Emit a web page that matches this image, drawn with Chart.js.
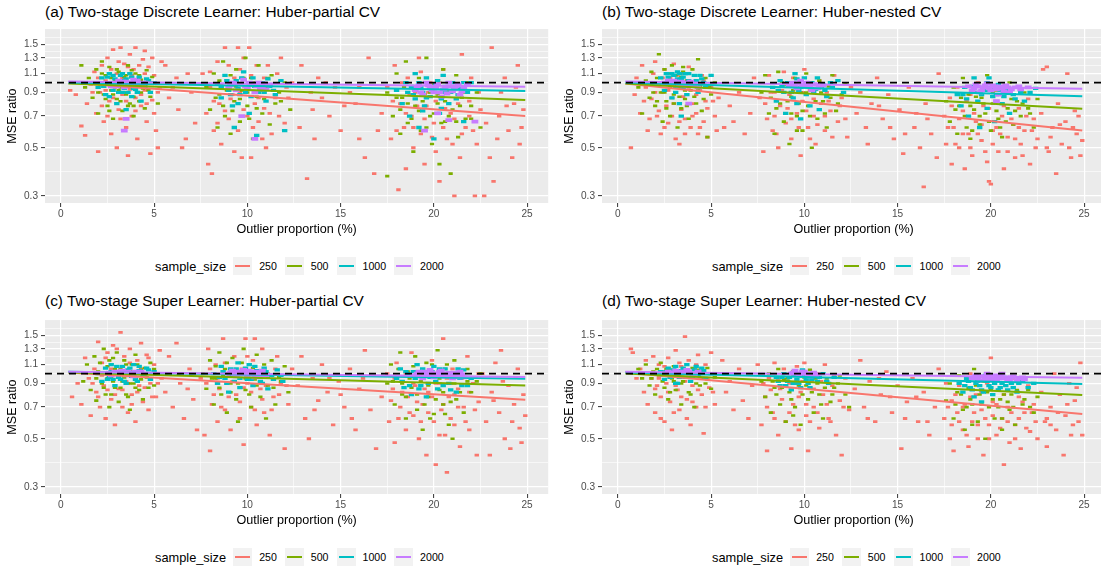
<!DOCTYPE html>
<html>
<head>
<meta charset="utf-8">
<script src="https://cdn.jsdelivr.net/npm/chart.js@4.4.0/dist/chart.umd.min.js"></script>
<style>
body{margin:0;width:1101px;height:569px;overflow:hidden;background:#fff;position:relative;font-family:"Liberation Sans",Arial,sans-serif;color:#000}
canvas{position:absolute}
.ttl{position:absolute;font-size:15.4px;line-height:18px;white-space:nowrap}
.leg{position:absolute;display:flex;align-items:center;height:18px;white-space:nowrap}
.leg .lt{font-size:12.8px;margin-right:7px}
.leg .key{width:19px;height:18px;background:#F2F2F2;position:relative;margin-right:7px}
.leg .key i{position:absolute;left:2px;right:2px;top:8px;height:2px}
.leg .lab{font-size:10.6px;margin-right:8px}
</style>
</head>
<body>
<div class="ttl" style="left:45px;top:3px">(a) Two-stage Discrete Learner: Huber-partial CV</div>
<div class="ttl" style="left:602px;top:3px">(b) Two-stage Discrete Learner: Huber-nested CV</div>
<div class="ttl" style="left:45px;top:292px">(c) Two-stage Super Learner: Huber-partial CV</div>
<div class="ttl" style="left:602px;top:292px">(d) Two-stage Super Learner: Huber-nested CV</div>
<canvas id="ca" width="556" height="220" style="left:0;top:20px"></canvas>
<canvas id="cb" width="556" height="220" style="left:557px;top:20px"></canvas>
<canvas id="cc" width="556" height="220" style="left:0;top:311px"></canvas>
<canvas id="cd" width="556" height="220" style="left:557px;top:311px"></canvas>
<div class="leg" id="la" style="left:155px;top:257px"></div>
<div class="leg" id="lb" style="left:712px;top:257px"></div>
<div class="leg" id="lc" style="left:155px;top:548px"></div>
<div class="leg" id="ld" style="left:712px;top:548px"></div>
<script>
const sizes = ['250', '500', '1000', '2000']
const colors = ['#F8766D', '#7CAE00', '#00BFC4', '#C77CFF']
const yMajor = [0.3, 0.5, 0.7, 0.9, 1.1, 1.3, 1.5]
const yMinor = [0.387, 0.592, 0.794, 0.995, 1.196, 1.396, 1.611]
const xMajor = [0, 5, 10, 15, 20, 25]
const xMinor = [2.5, 7.5, 12.5, 17.5, 22.5]
const xMin = -0.85, xMax = 26.13
const yMin = 0.278, yMax = 1.765
const refY = 1
const fitX = [0.4, 24.9]

// (a) discrete learner, huber-partial
const a250 = [[0.5,.92],[0.8,.88],[1.1,.63],[1.3,.57],[1.4,.8],[1.6,.98],[1.8,1.12],[1.9,.72],[2.0,.48],[2.1,.9],[2.2,1.2],[2.3,.66],[2.4,1.02],[2.5,1.3],[2.6,.82],[2.7,.58],[2.8,1.42],[2.9,.95],[3.0,.5],[3.0,1.1],[3.1,.75],[3.2,1.45],[3.3,.88],[3.4,1.22],[3.5,.62],[3.6,.46],[3.6,1.0],[3.7,1.35],[3.8,.7],[3.9,1.15],[4.0,1.45],[4.0,.85],[4.1,.55],[4.2,1.05],[4.3,.78],[4.4,1.28],[4.5,1.4],[4.5,.92],[4.6,.66],[4.7,1.18],[4.8,.47],[4.9,.83],[5.0,1.08],[5.1,.6],[5.2,.5],[5.3,.95],[5.4,1.25],
  [1.7,.9],[2.0,1.05],[2.2,.78],[2.4,.92],[2.5,.7],[2.7,1.15],[2.8,.85],[3.0,.96],[3.1,1.25],[3.2,.68],[3.3,1.05],[3.5,.82],[3.6,1.18],[3.7,.93],[3.8,1.08],[4.0,.74],[4.1,.98],[4.2,1.2],[4.3,.88],[4.5,1.1],[4.6,.8],[4.8,1.0],[4.9,1.3],[5.0,.72],[5.2,.9],
  [5.6,1.2],[5.8,.85],[6.0,.95],[6.2,1.05],[6.3,.75],[6.5,.5],[6.7,.55],[6.8,1.1],[7.0,.9],[7.2,.65],
  [7.6,1.1],[7.8,.72],[7.9,.42],[8.0,.95],[8.1,.38],[8.2,.6],[8.4,1.25],[8.5,.8],[8.6,.52],[8.8,1.45],[8.9,1.0],[9.0,.68],[9.2,.88],[9.3,.48],[9.5,1.45],[9.6,1.15],[9.7,.45],[9.8,.75],[10.0,.95],[10.1,1.45],[10.2,.45],[10.3,.62],[10.5,1.2],[10.6,.85],[10.8,.55],[10.9,1.05],[11.0,.5],[11.2,.72],[11.4,.92],[11.6,1.1],[11.8,1.3],[12.0,.65],[12.2,.85],[12.4,1.0],
  [8.0,1.12],[8.2,.82],[8.4,.65],[8.6,.98],[8.8,.74],[9.0,1.2],[9.1,.84],[9.3,1.05],[9.5,.6],[9.6,.9],[9.8,1.3],[10.0,.7],[10.2,1.08],[10.4,.8],[10.6,.66],[10.7,1.0],[10.9,.76],[11.1,1.2],[11.3,.58],[11.5,.85],[11.7,.7],[12.1,.95],
  [12.8,.62],[12.9,1.2],[13.2,.36],[13.4,.9],[13.5,.75],[13.6,.55],[13.8,1.05],[14.0,.85],[14.2,1.0],[14.4,.7],[14.7,.95],[15.0,.6],[15.2,.78],[15.5,.9],[15.8,.8],[16.0,.55],[16.0,.95],[16.3,.45],[16.5,1.3],[16.8,.38],[17.0,.6],[17.2,.72],
  [17.5,.95],[17.7,.55],[17.9,1.2],[18.1,.32],[18.2,.8],[18.4,.62],[18.5,.4],[18.6,1.05],[18.8,.7],[18.9,.5],[19.0,.9],[19.2,1.3],[19.3,.58],[19.5,.42],[19.6,.78],[19.8,1.0],[20.0,.65],[20.1,.48],[20.3,.35],[20.4,.85],[20.5,1.15],[20.7,.55],[20.9,.72],[21.1,.3],[21.2,.95],[21.4,.45],[21.5,1.35],[21.7,.62],[21.9,.82],[22.0,1.05],[22.2,.3],[22.3,.52],[22.5,.75],
  [17.8,.82],[18.0,.6],[18.3,1.0],[18.5,.72],[18.7,.88],[18.9,.62],[19.1,.78],[19.3,1.12],[19.5,.68],[19.7,.9],[19.9,.56],[20.1,.82],[20.3,1.0],[20.5,.62],[20.6,.76],[20.8,.92],[21.0,.52],[21.1,.68],[21.3,.8],[21.5,.58],[21.7,1.0],[21.9,.7],[22.1,.6],[22.4,.9],
  [22.7,.3],[22.8,.65],[23.0,.45],[23.1,1.45],[23.2,.35],[23.4,.55],[23.5,.7],[23.6,.9],[23.8,1.05],[23.9,.78],[24.0,.6],[24.2,.45],[24.3,.8],[24.4,.95],[24.5,1.2],[24.6,.52],[24.7,.62],[24.8,.75]]
const a500 = [[1.1,1.2],[1.3,.95],[1.5,1.05],[1.7,.85],[1.9,1.15],[2.0,.72],[2.1,.98],[2.2,1.25],[2.3,.88],[2.4,1.08],[2.5,.78],[2.6,1.18],[2.7,.92],[2.8,.68],[2.9,1.02],[3.0,.84],[3.1,1.12],[3.2,.95],[3.3,.74],[3.4,1.06],[3.5,.88],[3.6,1.2],[3.7,.8],[3.8,.98],[3.9,.7],[4.0,1.1],[4.1,.9],[4.2,.82],[4.3,1.03],[4.4,.94],[4.5,.76],[4.6,1.14],[4.8,.86],[5.0,1.0],[5.2,.8],
  [1.8,1.0],[2.0,.9],[2.2,1.1],[2.4,.84],[2.5,.98],[2.7,1.05],[2.8,.88],[3.0,1.15],[3.1,.92],[3.2,.82],[3.3,1.02],[3.4,.9],[3.5,1.08],[3.6,.78],[3.7,.96],[3.8,1.14],[3.9,.86],[4.0,1.0],[4.2,1.08],[4.3,.9],[4.5,1.0],[4.7,.92],[4.9,1.06],[2.6,.74],[3.9,.78],
  [7.8,.95],[8.0,.75],[8.2,1.1],[8.4,.62],[8.5,.88],[8.7,1.25],[8.8,.7],[9.0,1.0],[9.1,.58],[9.3,.82],[9.4,1.15],[9.6,.66],[9.7,.92],[9.9,1.3],[10.0,.78],[10.2,1.05],[10.3,.55],[10.5,.86],[10.6,1.2],[10.8,.72],[11.0,.95],[11.2,.64],[11.3,1.08],[11.5,.8],[11.7,.9],[12.0,1.0],[12.3,.75],
  [8.3,.85],[8.5,1.02],[8.7,.78],[8.9,.92],[9.1,1.08],[9.2,.74],[9.4,.96],[9.6,.84],[9.8,1.05],[10.0,.9],[10.1,.68],[10.3,1.0],[10.5,.76],[10.7,.92],[10.9,.84],[11.1,1.05],[11.4,.92],[11.8,.82],
  [17.5,.9],[17.8,.7],[18.0,1.1],[18.2,.58],[18.3,.85],[18.5,1.25],[18.6,.65],[18.8,.95],[18.9,.48],[19.0,.78],[19.2,1.05],[19.3,.6],[19.5,.88],[19.6,1.3],[19.8,.7],[19.9,.52],[20.0,.98],[20.2,.8],[20.3,.42],[20.5,1.15],[20.6,.66],[20.8,.9],[20.9,.38],[21.0,.75],[21.2,1.08],[21.3,.56],[21.5,.85],[21.7,.68],[21.8,1.0],[22.0,.78],[22.3,.9],[22.5,.62],[17.5,.37],
  [18.0,.85],[18.2,.75],[18.4,.95],[18.6,.8],[18.8,.68],[19.0,.92],[19.2,.74],[19.4,.82],[19.6,.62],[19.8,.9],[20.0,.72],[20.2,.88],[20.4,.65],[20.6,.82],[20.8,.7],[21.0,.92],[21.2,.66],[21.4,.78],[21.6,.9],[22.0,.68]]
const a1000 = [[2.0,.95],[2.2,1.05],[2.4,.88],[2.5,1.0],[2.6,1.1],[2.8,.92],[2.9,1.04],[3.0,.8],[3.1,.98],[3.2,1.08],[3.3,.9],[3.4,1.02],[3.5,.75],[3.6,.96],[3.7,1.1],[3.8,.86],[3.9,1.0],[4.0,.93],[4.2,1.06],[4.3,.82],[4.4,.98],[4.6,1.04],[4.8,.9],[5.0,1.0],
  [2.3,.96],[2.5,1.06],[2.7,.98],[2.8,1.08],[3.0,1.0],[3.1,.9],[3.2,1.02],[3.3,1.1],[3.4,.94],[3.5,1.04],[3.6,.9],[3.7,1.0],[3.8,1.06],[3.9,.94],[4.0,1.03],[4.1,.9],[4.3,1.0],[4.5,.96],[4.7,1.02],[2.6,.86],
  [8.4,.98],[8.6,.85],[8.8,1.08],[9.0,.92],[9.2,.78],[9.3,.62],[9.4,1.02],[9.6,.88],[9.8,1.12],[10.0,.95],[10.1,.72],[10.3,1.05],[10.5,.57],[10.6,.9],[10.8,1.0],[11.0,.82],[11.2,.96],[11.5,.88],[11.8,1.02],[12.0,.6],
  [8.6,.95],[8.9,1.02],[9.1,.88],[9.3,.98],[9.5,.94],[9.7,1.05],[9.9,.9],[10.1,1.0],[10.2,.86],[10.4,.96],[10.7,.94],[10.9,.9],[11.1,1.04],[11.4,.92],[9.5,.8],
  [18.0,.92],[18.3,.8],[18.5,1.0],[18.7,.7],[18.9,.88],[19.0,1.1],[19.2,.62],[19.3,.95],[19.5,.78],[19.6,1.05],[19.8,.86],[20.0,.55],[20.1,.98],[20.3,.72],[20.5,1.08],[20.6,.9],[20.8,.8],[21.0,1.0],[21.2,.84],[21.4,.95],[21.6,.66],[21.8,.9],[22.0,1.0],
  [18.6,.9],[18.8,.96],[19.0,.84],[19.2,1.0],[19.4,.9],[19.6,.85],[19.8,.96],[20.0,.9],[20.2,1.02],[20.4,.84],[20.6,.96],[20.9,.9],[21.1,.94],[21.3,.88],[21.6,1.0],[19.4,.74],[20.4,.76]]
const a2000 = [[2.6,.98],[2.8,1.0],[3.0,.96],[3.1,1.02],[3.2,.99],[3.4,.95],[3.5,1.01],[3.6,.97],[3.8,1.0],[4.0,.96],[4.1,1.02],[4.3,.98],[4.5,1.0],[3.4,.6],[3.5,.68],
  [2.7,.96],[2.9,.99],[3.3,1.01],[3.7,.99],[3.9,1.03],[4.2,.98],[4.4,.96],
  [9.0,.95],[9.2,1.0],[9.4,.92],[9.6,.98],[9.8,1.03],[10.0,.94],[10.2,.99],[10.4,.9],[10.6,1.0],[10.8,.96],[11.0,.93],[11.2,.98],[10.4,.55],[9.7,.7],
  [9.1,.97],[9.3,.99],[9.9,.96],[10.1,1.0],[10.5,.96],[10.7,.93],[10.9,.99],
  [19.0,.92],[19.2,.97],[19.4,.88],[19.6,1.0],[19.8,.94],[20.0,.9],[20.2,.98],[20.4,.86],[20.6,.95],[20.8,1.0],[21.0,.91],[21.2,.96],[21.4,.88],[21.6,.94],[21.8,.98],[19.5,.6],[20.8,.67],[22.2,.66],[20.2,.72],
  [19.1,.95],[19.3,.9],[19.7,.97],[19.9,.92],[20.1,.95],[20.3,.9],[20.5,.93],[20.7,.89],[20.9,.96],[21.1,.93],[21.3,.98],[21.5,.91]]
const aFitStart = [1.0, 0.99, 1.0, 1.01]
const aFitEnd = [0.70, 0.83, 0.915, 0.956]

// (b) discrete learner, huber-nested
const b250 = [[0.7,.5],[0.9,.88],[1.0,1.05],[1.2,.72],[1.3,1.2],[1.5,.95],[1.6,.6],[1.8,.84],[1.9,1.1],[2.0,1.25],[2.1,.7],[2.2,.98],[2.3,.58],[2.4,.9],[2.5,1.15],[2.6,.78],[2.7,.65],[2.8,1.05],[2.9,.85],[3.0,1.22],[3.1,.55],[3.2,.95],[3.3,.52],[3.4,.75],[3.5,1.1],[3.6,.68],[3.7,.88],[3.8,1.18],[3.9,.62],[4.0,.8],[4.1,1.0],[4.2,.72],[4.3,.58],[4.4,.92],[4.5,1.08],[4.6,.66],[4.7,.82],[4.8,.56],[5.0,.95],[5.2,.7],[5.4,.85],
  [1.4,.82],[1.7,.68],[2.0,.9],[2.2,.74],[2.4,1.05],[2.5,.62],[2.7,.92],[2.9,.7],[3.0,.8],[3.2,1.08],[3.3,.66],[3.5,.86],[3.6,.58],[3.8,.95],[4.0,.7],[4.2,.88],[4.4,.62],[4.6,1.02],[4.8,.76],[5.1,.82],[5.3,.6],
  [5.7,.62],[6.0,.78],[6.2,.66],[6.5,.9],[6.8,.58],[7.1,.72],[7.3,1.05],
  [7.6,.85],[7.8,.48],[8.0,.68],[8.1,1.08],[8.3,.6],[8.4,.9],[8.6,.5],[8.7,.78],[8.9,1.12],[9.0,.65],[9.2,.88],[9.3,.55],[9.5,.98],[9.6,.72],[9.8,.46],[9.9,.82],[10.0,1.15],[10.2,.62],[10.3,.92],[10.5,.7],[10.6,.52],[10.8,1.02],[10.9,.8],[11.1,.6],[11.2,.9],[11.4,.74],[11.6,1.08],[11.8,.66],[12.0,.85],[12.3,.56],[12.5,.95],
  [7.9,.8],[8.2,.9],[8.4,.7],[8.5,.58],[8.8,.92],[9.1,.76],[9.3,.68],[9.4,1.05],[9.7,.62],[9.9,.9],[10.1,.74],[10.3,.55],[10.5,.84],[10.7,.64],[10.9,.95],[11.1,.7],[11.3,.82],[11.5,.56],[11.9,.78],[12.2,.68],
  [12.8,.72],[13.0,.9],[13.3,.62],[13.4,.52],[13.6,.8],[13.9,1.05],[14.0,.78],[14.2,.68],[14.5,.88],[14.6,.62],[14.8,.55],[15.1,.75],[15.3,.47],[15.4,.58],[15.6,.95],[15.9,.62],[16.0,.72],[16.2,.5],[16.4,.33],[16.5,.8],[16.6,.68],[16.8,.58],[17.1,.45],[17.2,1.1],
  [17.5,.7],[17.6,.52],[17.8,.85],[17.9,.42],[18.0,.62],[18.2,.95],[18.3,.5],[18.5,.74],[18.6,.4],[18.8,.58],[18.9,.88],[19.0,.46],[19.2,.66],[19.3,1.0],[19.5,.54],[19.6,.78],[19.8,.43],[19.9,.35],[20.0,.34],[20.1,.6],[20.3,.82],[20.4,.48],[20.6,.7],[20.7,.4],[20.9,.56],[21.0,.92],[21.2,.64],[21.3,.45],[21.5,.76],[21.6,.52],[21.8,.6],[22.0,.84],[22.1,.42],[22.3,.68],[22.5,.55],
  [17.7,.62],[17.9,.78],[18.1,.52],[18.3,.68],[18.5,.58],[18.7,.82],[18.9,.5],[19.1,.72],[19.3,.58],[19.5,.64],[19.7,.48],[19.9,.76],[20.1,.52],[20.3,.62],[20.5,.58],[20.7,.78],[20.9,.48],[21.1,.68],[21.3,.55],[21.5,.62],[21.7,.46],[21.9,.7],[22.2,.6],[22.4,.5],
  [22.7,.72],[22.8,1.15],[23.0,1.18],[23.0,.5],[23.1,.48],[23.2,.56],[23.3,.62],[23.5,.38],[23.6,.8],[23.7,.64],[23.8,.52],[24.0,.66],[24.1,1.1],[24.2,.5],[24.3,.45],[24.4,.62],[24.5,.74],[24.6,.58],[24.7,.7],[24.8,.46],[24.9,.54]]
const b500 = [[1.1,.95],[1.3,.72],[1.5,1.02],[1.7,.85],[1.8,1.12],[2.0,.78],[2.1,1.05],[2.2,1.35],[2.3,.9],[2.4,.66],[2.5,1.15],[2.6,.82],[2.7,1.0],[2.8,.7],[2.9,1.2],[3.0,.88],[3.1,1.08],[3.2,.62],[3.3,.95],[3.4,.76],[3.5,1.12],[3.6,.84],[3.7,1.02],[3.8,.68],[3.9,.92],[4.0,1.15],[4.2,.8],[4.3,1.28],[4.4,.96],[4.5,.74],[4.7,1.05],[4.8,.56],[5.0,.88],[5.2,1.0],
  [1.9,.9],[2.1,.82],[2.3,1.0],[2.5,.9],[2.6,.76],[2.8,.95],[3.0,.8],[3.1,1.0],[3.3,.86],[3.4,1.06],[3.6,.92],[3.7,.78],[3.9,1.0],[4.1,.86],[4.3,.94],[4.6,.84],[4.9,.95],[2.7,1.1],[3.5,1.18],
  [7.7,.9],[7.9,1.08],[8.1,.72],[8.3,.95],[8.4,.58],[8.6,1.12],[8.7,.8],[8.9,.66],[9.0,.98],[9.2,.52],[9.3,.86],[9.5,1.05],[9.6,.7],[9.8,.9],[9.9,.6],[10.1,1.1],[10.2,.78],[10.4,.5],[10.5,.94],[10.7,.68],[10.8,1.02],[11.0,.82],[11.2,.62],[11.3,.96],[11.5,1.08],[11.7,.74],[12.0,.88],[12.2,.98],
  [8.2,.85],[8.5,.76],[8.8,1.0],[9.1,.82],[9.3,.72],[9.4,.92],[9.7,.8],[9.9,.74],[10.1,.9],[10.3,.7],[10.6,.82],[10.9,.9],[11.1,.72],[11.4,.85],[11.8,.8],[9.6,.6],
  [17.6,.82],[17.8,.66],[18.0,.95],[18.2,.58],[18.3,.78],[18.5,1.05],[18.6,.7],[18.8,.88],[18.9,.55],[19.1,.75],[19.2,.98],[19.4,.64],[19.5,.85],[19.7,.72],[19.8,1.08],[20.0,.6],[20.1,.8],[20.3,.92],[20.4,.68],[20.6,.56],[20.7,.86],[20.9,.76],[21.0,1.0],[21.2,.64],[21.4,.82],[21.6,.7],[21.8,.9],[22.0,.76],[22.3,.62],[22.5,.84],
  [18.1,.75],[18.4,.85],[18.7,.62],[18.9,.78],[19.2,.86],[19.4,.7],[19.6,.8],[19.9,.66],[20.1,.9],[20.3,.74],[20.6,.8],[20.8,.66],[21.1,.84],[21.3,.74],[21.7,.8],[22.1,.72],[19.0,.6],[20.5,.62]]
const b1000 = [[2.3,1.05],[2.5,.92],[2.6,1.1],[2.8,1.0],[2.9,.85],[3.0,1.08],[3.1,.96],[3.2,1.12],[3.3,.8],[3.4,1.04],[3.5,.94],[3.6,1.1],[3.7,.88],[3.8,1.02],[4.0,.98],[4.1,1.08],[4.3,.9],[4.5,1.04],[4.7,.95],[5.0,1.08],[3.4,.7],
  [2.4,1.0],[2.6,.98],[2.7,1.06],[2.9,1.1],[3.0,.98],[3.2,1.04],[3.3,1.1],[3.5,1.06],[3.6,1.0],[3.8,1.1],[3.9,.96],[4.2,1.02],[4.4,1.08],[4.6,1.0],[3.1,.9],
  [8.3,.95],[8.5,.82],[8.7,1.02],[8.9,.9],[9.0,.72],[9.2,.98],[9.4,.85],[9.5,1.1],[9.7,.92],[9.8,.68],[10.0,1.05],[10.1,.88],[10.3,.78],[10.4,1.0],[10.6,.93],[10.8,.75],[11.0,.98],[11.2,.86],[11.5,.95],[11.8,1.02],[12.1,.9],
  [8.6,.92],[8.8,.96],[9.1,1.0],[9.3,.9],[9.6,1.04],[9.8,.95],[10.2,1.0],[10.5,.9],[10.7,1.05],[10.9,.95],[11.1,.92],[11.4,1.0],[9.6,.8],
  [18.2,.88],[18.4,.78],[18.6,.95],[18.8,.7],[19.0,.9],[19.1,1.05],[19.3,.82],[19.4,.62],[19.6,.95],[19.8,.76],[19.9,1.05],[20.1,.86],[20.2,.66],[20.4,.98],[20.6,.8],[20.8,.92],[21.0,.72],[21.2,.88],[21.5,.95],[21.8,.82],[22.1,.9],[22.4,.94],
  [18.5,.88],[18.7,.84],[19.0,.96],[19.2,.9],[19.5,.88],[19.7,.92],[20.0,.95],[20.3,.88],[20.5,.92],[20.7,.86],[21.0,.9],[21.3,.84],[21.6,.9],[19.8,1.0]]
const b2000 = [[2.5,1.0],[2.7,1.02],[2.9,.98],[3.1,1.01],[3.3,.97],[3.5,1.0],[3.7,.96],[3.9,1.01],[4.1,.98],[4.3,.95],[3.8,.8],
  [2.6,.99],[2.8,1.0],[3.0,1.02],[3.2,.99],[3.4,1.01],[3.6,.98],[3.8,1.0],[4.0,.97],
  [9.2,.97],[9.4,1.0],[9.6,.94],[9.8,1.02],[10.0,.96],[10.2,.99],[10.4,.92],[10.6,.98],[10.8,.95],[11.0,.97],
  [9.3,.99],[9.5,.96],[9.7,.99],[9.9,.97],[10.1,1.0],[10.3,.96],[10.5,.98],[10.7,.94],
  [18.8,.96],[19.0,.92],[19.2,.98],[19.4,.9],[19.6,.95],[19.8,.99],[20.0,.92],[20.2,.96],[20.4,.88],[20.6,.94],[20.8,.97],[21.0,.9],[21.3,.95],[21.6,.93],[22.0,.95],[20.3,.82],
  [19.1,.94],[19.3,.96],[19.5,.92],[19.7,.97],[19.9,.94],[20.1,.97],[20.3,.93],[20.5,.96],[20.7,.91],[20.9,.95],[21.1,.93],[21.5,.96]]
const bFitStart = [0.99, 0.99, 1.0, 1.01]
const bFitEnd = [0.60, 0.756, 0.865, 0.937]

// (c) super learner, huber-partial
const c250 = [[0.6,.78],[0.9,.9],[1.1,.72],[1.3,1.18],[1.5,.95],[1.6,.64],[1.8,1.05],[1.9,.82],[2.0,1.4],[2.1,.7],[2.2,1.12],[2.3,.88],[2.4,.62],[2.5,1.25],[2.6,.98],[2.7,.76],[2.8,1.35],[2.9,.58],[3.0,1.08],[3.1,.85],[3.2,1.55],[3.3,.7],[3.4,1.2],[3.5,.92],[3.6,.66],[3.7,1.3],[3.8,.8],[3.9,1.02],[4.0,.6],[4.1,1.15],[4.2,.88],[4.3,1.38],[4.4,.74],[4.5,.98],[4.6,1.22],[4.7,.68],[4.8,.9],[5.0,1.1],[5.1,.78],[5.3,1.28],[5.4,.95],
  [1.7,.9],[2.0,.78],[2.2,.98],[2.4,1.18],[2.5,.84],[2.7,1.05],[2.9,.8],[3.0,1.3],[3.1,.96],[3.3,.84],[3.4,1.02],[3.6,.9],[3.7,1.12],[3.8,.72],[4.0,.96],[4.1,.82],[4.3,1.05],[4.5,.86],[4.7,1.18],[4.9,.78],[5.2,.9],
  [5.6,.82],[5.8,1.2],[6.0,.7],[6.2,1.38],[6.3,1.0],[6.4,.9],[6.6,.62],[6.8,.85],[6.9,1.05],[7.1,.76],[7.3,.55],
  [7.5,.95],[7.7,.52],[7.9,1.3],[8.0,.44],[8.1,.72],[8.3,1.1],[8.4,.6],[8.5,.85],[8.7,1.45],[8.8,.68],[9.0,.98],[9.1,.55],[9.3,1.2],[9.4,.8],[9.6,.62],[9.7,1.05],[9.8,.47],[9.9,1.45],[10.0,.9],[10.2,.7],[10.3,1.15],[10.4,1.45],[10.5,.58],[10.7,.85],[10.8,1.3],[10.9,.66],[11.1,1.0],[11.2,.52],[11.4,.78],[11.6,1.2],[11.8,.9],[12.0,.45],[12.2,.72],[12.4,1.05],
  [7.8,.9],[8.0,1.05],[8.2,.8],[8.4,.95],[8.6,.7],[8.8,1.12],[9.0,.78],[9.2,.92],[9.4,1.0],[9.6,.74],[9.8,.86],[10.0,1.2],[10.2,.82],[10.4,.68],[10.6,1.0],[10.8,.76],[11.0,.88],[11.3,.68],[11.5,1.05],[11.7,.8],[12.1,.88],
  [12.7,.88],[12.9,1.2],[13.1,.62],[13.3,.5],[13.5,.95],[13.6,.68],[13.8,.75],[14.0,1.1],[14.3,.82],[14.4,.95],[14.6,.58],[14.9,.92],[15.0,.8],[15.2,.7],[15.5,1.05],[15.6,.62],[15.8,.55],[16.0,.85],[16.2,.95],[16.3,1.28],[16.6,.68],[16.9,.45],[17.2,.78],
  [17.5,1.0],[17.6,.6],[17.8,.85],[17.9,.48],[18.0,1.12],[18.2,.7],[18.3,.92],[18.5,.55],[18.6,.78],[18.8,1.25],[18.9,.64],[19.0,.88],[19.2,.5],[19.3,1.02],[19.4,.72],[19.6,.42],[19.7,.82],[19.9,1.15],[20.0,.6],[20.1,.38],[20.3,.9],[20.4,.68],[20.5,1.45],[20.6,.52],[20.7,.35],[20.8,.78],[21.0,1.05],[21.1,.58],[21.3,.85],[21.4,.46],[21.6,.7],[21.8,1.2],[21.9,.55],[22.1,.9],[22.3,.42],[22.4,.74],
  [17.7,.75],[17.9,.95],[18.1,.62],[18.3,.82],[18.5,1.0],[18.7,.66],[18.9,.9],[19.1,.74],[19.3,.6],[19.5,.85],[19.7,.66],[19.9,.78],[20.1,.9],[20.3,.52],[20.5,.72],[20.7,.95],[20.9,.62],[21.1,.8],[21.3,.7],[21.5,.95],[21.7,.6],[21.9,.82],[22.2,.68],[22.4,1.0],
  [22.6,1.0],[22.8,.6],[23.0,.42],[23.1,.82],[23.2,.75],[23.3,1.12],[23.5,.66],[23.6,1.28],[23.7,.92],[23.8,.5],[24.0,.88],[24.1,.45],[24.2,.6],[24.3,.72],[24.4,.96],[24.5,1.05],[24.6,.56],[24.7,.48],[24.8,.8],[24.9,.64]]
const c500 = [[1.2,.92],[1.4,1.1],[1.6,.84],[1.8,1.2],[1.9,.75],[2.0,1.02],[2.2,.9],[2.3,1.3],[2.4,.8],[2.5,1.08],[2.6,.7],[2.7,.96],[2.8,1.18],[2.9,.86],[3.0,1.25],[3.1,.74],[3.2,1.05],[3.3,.92],[3.4,1.15],[3.5,.8],[3.6,1.0],[3.7,.68],[3.8,1.1],[3.9,.9],[4.0,1.22],[4.2,.84],[4.3,1.04],[4.4,.76],[4.6,.96],[4.8,1.12],[5.0,.88],[5.2,1.0],
  [1.9,.95],[2.1,1.12],[2.3,.86],[2.5,.95],[2.6,1.15],[2.8,.92],[2.9,1.05],[3.1,1.0],[3.2,.86],[3.4,.96],[3.5,1.1],[3.7,.9],[3.8,1.02],[4.0,.86],[4.1,1.1],[4.3,.94],[4.5,1.06],[4.7,.86],[5.0,1.05],[2.7,.8],[3.6,.78],
  [7.6,1.0],[7.8,.85],[8.0,1.15],[8.2,.72],[8.3,.95],[8.5,1.25],[8.6,.8],[8.8,1.05],[8.9,.66],[9.1,.9],[9.2,1.18],[9.4,.76],[9.5,.6],[9.6,1.0],[9.8,1.3],[9.9,.84],[10.1,1.1],[10.2,.7],[10.4,.94],[10.5,1.22],[10.7,.78],[10.8,1.02],[11.0,.62],[11.1,.88],[11.3,1.15],[11.5,.72],[11.7,.96],[12.0,1.08],[12.2,.82],
  [8.1,.95],[8.3,1.08],[8.5,.86],[8.7,.98],[8.9,1.12],[9.1,.82],[9.3,1.02],[9.5,.9],[9.7,1.12],[9.9,.95],[10.1,.8],[10.3,1.06],[10.5,.88],[10.7,.98],[10.9,1.1],[11.1,.96],[11.4,.86],[11.8,.92],
  [17.5,.9],[17.7,1.1],[17.9,.72],[18.0,.95],[18.2,1.25],[18.3,.8],[18.5,.62],[18.6,1.02],[18.8,.86],[19.0,1.2],[19.1,.68],[19.3,.92],[19.4,.55],[19.6,1.12],[19.7,.78],[19.9,.98],[20.0,.65],[20.2,1.28],[20.3,.84],[20.5,.72],[20.6,1.05],[20.8,.58],[20.9,.9],[21.1,1.15],[21.2,.76],[21.4,.95],[21.6,.66],[21.8,1.05],[22.0,.82],[22.3,.92],[22.5,1.0],[21.0,.5],
  [17.8,.92],[18.1,1.05],[18.3,.9],[18.5,.78],[18.7,.95],[18.9,1.08],[19.1,.8],[19.3,1.0],[19.5,.72],[19.7,.88],[19.9,1.1],[20.1,.76],[20.3,.95],[20.5,.82],[20.7,1.1],[20.9,.74],[21.1,.9],[21.4,.82],[21.8,.92],[19.8,.62],[20.6,.65]]
const c1000 = [[2.0,1.0],[2.2,.92],[2.4,1.06],[2.6,.96],[2.7,1.1],[2.9,.88],[3.0,1.02],[3.2,.94],[3.3,1.08],[3.5,.9],[3.6,1.04],[3.8,.97],[3.9,1.1],[4.1,.92],[4.2,1.03],[4.4,.98],[4.6,1.06],[4.8,.94],[5.0,1.02],
  [2.3,1.0],[2.5,.94],[2.7,1.02],[2.8,.94],[3.0,1.08],[3.1,.96],[3.3,1.0],[3.4,.92],[3.6,.98],[3.7,1.06],[3.9,1.0],[4.0,.94],[4.2,1.08],[4.5,1.0],[4.7,1.04],
  [8.2,1.0],[8.4,.9],[8.6,1.08],[8.8,.95],[9.0,.82],[9.1,1.05],[9.3,.92],[9.5,1.12],[9.6,.86],[9.8,1.0],[10.0,.94],[10.1,1.1],[10.3,.88],[10.5,1.03],[10.7,.92],[10.9,1.06],[11.1,.85],[11.3,.98],[11.6,1.04],[11.9,.92],
  [8.5,.96],[8.7,1.02],[8.9,.9],[9.2,.98],[9.4,1.05],[9.6,.95],[9.9,1.06],[10.2,.94],[10.4,1.08],[10.6,.96],[10.8,.9],[11.0,1.02],[11.4,.94],[11.8,.98],
  [18.0,.95],[18.2,1.05],[18.4,.86],[18.6,1.0],[18.8,.8],[19.0,.95],[19.1,1.1],[19.3,.88],[19.5,1.02],[19.6,.78],[19.8,.96],[20.0,1.08],[20.2,.85],[20.4,.98],[20.6,1.05],[20.8,.9],[21.0,1.0],[21.2,.82],[21.4,.95],[21.6,1.04],[21.8,.88],[22.0,.95],
  [18.3,.92],[18.5,1.02],[18.7,.88],[18.9,1.02],[19.2,.85],[19.4,1.05],[19.7,.9],[19.9,1.02],[20.1,.92],[20.3,1.05],[20.5,.88],[20.7,1.0],[20.9,.84],[21.1,.96],[21.3,1.05],[21.5,.88],[21.8,.96]]
const c2000 = [[2.5,1.0],[2.7,.98],[2.9,1.02],[3.1,.99],[3.3,1.03],[3.5,.98],[3.7,1.01],[3.9,.97],[4.1,1.0],[4.3,1.02],
  [2.6,1.01],[2.8,1.0],[3.0,.99],[3.2,1.02],[3.4,1.0],[3.6,1.02],[3.8,.99],[4.0,1.02],
  [9.0,1.0],[9.2,1.03],[9.4,.97],[9.6,1.01],[9.8,1.04],[10.0,.98],[10.2,1.02],[10.4,.96],[10.6,1.0],[10.8,1.03],[11.0,.98],
  [9.1,1.01],[9.3,.99],[9.5,1.02],[9.7,.99],[9.9,1.01],[10.1,1.03],[10.3,.99],[10.5,1.02],[10.7,.98],
  [19.0,.98],[19.2,1.02],[19.4,.95],[19.6,1.0],[19.8,1.04],[20.0,.96],[20.2,1.0],[20.4,1.03],[20.6,.97],[20.8,1.01],[21.0,.95],[21.2,.99],[21.4,1.02],[21.6,.96],
  [19.1,1.0],[19.3,.97],[19.5,1.02],[19.7,.98],[19.9,1.01],[20.1,.98],[20.3,1.02],[20.5,.97],[20.7,1.0],[20.9,.97],[21.1,1.01],[21.3,.96],[21.5,.99]]
const cFitStart = [1.01, 1.01, 1.02, 1.02]
const cFitEnd = [0.756, 0.88, 0.946, 0.963]

// (d) super learner, huber-nested
const d250 = [[0.7,1.3],[0.8,1.25],[1.0,.95],[1.2,1.05],[1.4,.82],[1.5,1.15],[1.6,.72],[1.8,.95],[1.9,1.2],[2.0,.66],[2.1,.88],[2.2,1.1],[2.3,.78],[2.4,1.02],[2.5,.6],[2.6,.9],[2.7,1.18],[2.8,.74],[2.9,.55],[3.0,.98],[3.1,1.28],[3.2,.84],[3.3,.68],[3.4,1.08],[3.5,.92],[3.6,1.48],[3.7,.76],[3.8,1.15],[3.9,.58],[4.0,.88],[4.1,1.05],[4.2,.7],[4.3,1.22],[4.4,.95],[4.5,.8],[4.6,.53],[4.7,1.1],[4.9,.86],[5.0,1.25],[5.2,.72],[5.4,1.0],
  [1.7,1.0],[2.0,.85],[2.2,.95],[2.3,.62],[2.5,1.08],[2.7,.82],[2.9,.98],[3.0,.66],[3.1,.88],[3.3,1.12],[3.4,.78],[3.6,.92],[3.7,.62],[3.8,1.0],[4.0,.74],[4.2,1.1],[4.3,.84],[4.5,1.02],[4.7,.7],[4.8,.94],[5.1,.82],
  [5.6,1.15],[5.8,.82],[6.0,.92],[6.2,.68],[6.5,1.05],[6.7,.75],[7.0,.62],[7.2,.88],
  [7.5,1.1],[7.7,.58],[7.9,.78],[8.0,.44],[8.1,.95],[8.3,.66],[8.4,1.12],[8.6,.52],[8.7,.85],[8.9,1.05],[9.0,.6],[9.2,.9],[9.3,.45],[9.4,.72],[9.6,1.08],[9.7,.55],[9.8,.82],[10.0,1.12],[10.1,.64],[10.2,.44],[10.4,.92],[10.5,.7],[10.7,1.0],[10.8,.56],[11.0,.8],[11.1,1.1],[11.3,.62],[11.5,.88],[11.7,.52],[11.9,.75],[12.0,.42],[12.2,.95],[12.4,.68],
  [7.8,.9],[8.0,.7],[8.2,.84],[8.4,.62],[8.6,.95],[8.8,.76],[9.0,.88],[9.2,.66],[9.4,.98],[9.5,.58],[9.7,.78],[9.9,.92],[10.1,.72],[10.3,.6],[10.5,.85],[10.7,.66],[10.9,.92],[11.2,.72],[11.4,.6],[11.6,.98],[12.1,.7],
  [12.7,.85],[13.0,1.15],[13.2,.7],[13.4,.62],[13.5,.92],[13.8,.6],[14.0,.95],[14.1,.8],[14.4,1.02],[14.6,.78],[14.7,.66],[15.0,.88],[15.2,.45],[15.4,.62],[15.5,.74],[15.8,.95],[16.0,.78],[16.1,.6],[16.4,.82],[16.6,.6],[16.7,.52],[17.0,.7],[17.2,1.05],
  [17.5,.62],[17.6,.9],[17.8,.5],[17.9,.75],[18.0,.44],[18.2,.66],[18.3,.88],[18.5,.55],[18.6,.72],[18.8,.46],[18.9,1.0],[19.0,.6],[19.2,.8],[19.3,.5],[19.5,.68],[19.6,.42],[19.8,.9],[19.9,.58],[20.0,1.18],[20.1,.74],[20.3,.52],[20.4,.84],[20.6,.62],[20.7,.38],[20.9,.7],[21.0,.48],[21.2,.95],[21.3,.58],[21.5,.78],[21.6,.45],[21.8,.66],[22.0,.88],[22.1,.54],[22.3,.72],[22.5,.5],
  [17.7,.7],[17.9,.58],[18.1,.8],[18.3,.6],[18.5,.7],[18.7,.52],[18.9,.78],[19.1,.66],[19.3,.58],[19.5,.82],[19.7,.62],[19.9,.5],[20.1,.64],[20.3,.72],[20.5,.56],[20.7,.8],[20.9,.6],[21.1,.66],[21.3,.5],[21.5,.62],[21.7,.74],[21.9,.56],[22.2,.66],[22.4,.6],
  [22.7,.82],[22.9,.6],[23.0,.46],[23.0,.62],[23.2,.7],[23.2,.58],[23.4,1.0],[23.5,.55],[23.6,.66],[23.7,.8],[23.9,.42],[24.0,.64],[24.1,.72],[24.2,.9],[24.3,.52],[24.4,.58],[24.5,.75],[24.6,.86],[24.7,.6],[24.8,1.12],[24.9,.52]]
const d500 = [[1.1,1.05],[1.3,.95],[1.5,1.1],[1.7,.88],[1.9,1.02],[2.0,.8],[2.2,.98],[2.3,1.12],[2.5,.86],[2.6,1.05],[2.7,.76],[2.9,.95],[3.0,1.08],[3.1,.84],[3.3,1.0],[3.4,.72],[3.5,.92],[3.7,1.1],[3.8,.82],[4.0,.98],[4.1,.7],[4.3,1.04],[4.4,.88],[4.6,.95],[4.8,1.06],[5.0,.85],[5.2,.96],
  [1.8,.95],[2.1,1.05],[2.4,.92],[2.6,.98],[2.8,1.04],[3.0,.92],[3.2,.98],[3.4,.9],[3.6,1.02],[3.8,.96],[4.0,1.06],[4.2,.9],[4.5,1.0],[4.7,.9],[2.8,.82],[3.9,.8],
  [7.7,.92],[7.9,.78],[8.1,1.0],[8.2,.66],[8.4,.86],[8.6,1.05],[8.7,.72],[8.9,.94],[9.0,.6],[9.2,.82],[9.4,1.02],[9.5,.7],[9.7,.88],[9.8,.58],[10.0,.96],[10.2,.76],[10.3,1.04],[10.5,.66],[10.7,.9],[10.8,.8],[11.0,.62],[11.2,.95],[11.4,.74],[11.6,.86],[11.9,.98],[12.2,.8],[12.4,.7],
  [8.3,.92],[8.5,.8],[8.8,.86],[9.1,.95],[9.3,.76],[9.6,.9],[9.9,.8],[10.1,.88],[10.4,.82],[10.6,.95],[10.9,.72],[11.1,.86],[11.5,.8],[11.8,.9],[9.4,.64],
  [17.6,.75],[17.8,.9],[18.0,.62],[18.2,.82],[18.3,.98],[18.5,.68],[18.6,.55],[18.8,.86],[19.0,.72],[19.1,1.05],[19.3,.6],[19.4,.8],[19.6,.92],[19.7,.5],[19.9,.7],[20.0,.84],[20.2,.62],[20.3,.96],[20.5,.76],[20.6,.55],[20.8,.88],[21.0,.68],[21.1,.8],[21.3,.58],[21.5,.9],[21.7,.72],[22.0,.84],[22.3,.66],[22.5,.78],
  [18.1,.72],[18.4,.8],[18.7,.7],[18.9,.76],[19.2,.88],[19.5,.72],[19.8,.82],[20.1,.76],[20.4,.7],[20.7,.8],[20.9,.74],[21.2,.7],[21.4,.84],[21.8,.76],[22.1,.7],[19.0,.58],[20.6,.62]]
const d1000 = [[2.3,1.02],[2.5,.94],[2.7,1.06],[2.9,.98],[3.1,1.08],[3.2,.9],[3.4,1.03],[3.6,.96],[3.7,1.1],[3.9,.92],[4.1,1.04],[4.3,.98],[4.5,1.06],[4.7,.95],[5.0,1.0],
  [2.4,.98],[2.6,1.02],[2.8,.96],[3.0,1.04],[3.3,.96],[3.5,1.06],[3.8,1.02],[4.0,.96],[4.2,1.08],[4.4,1.0],[4.6,1.03],[3.1,.9],
  [8.5,.96],[8.7,.88],[8.9,1.0],[9.1,.92],[9.3,.84],[9.5,.98],[9.7,.9],[9.9,1.04],[10.1,.94],[10.3,.86],[10.5,.98],[10.7,.92],[11.0,1.0],[11.3,.9],[11.6,.96],
  [8.6,.92],[8.8,.96],[9.0,.88],[9.2,.96],[9.4,.9],[9.6,.94],[9.8,.86],[10.0,.98],[10.2,.9],[10.4,.94],[10.8,.96],[11.2,.92],
  [18.3,.9],[18.5,.82],[18.7,.95],[18.9,.86],[19.1,.78],[19.3,.92],[19.5,.84],[19.7,.98],[19.9,.88],[20.1,.8],[20.3,.94],[20.5,.86],[20.7,.96],[20.9,.84],[21.1,.9],[21.4,.82],[21.7,.92],[22.0,.86],[22.3,.9],
  [18.6,.88],[18.8,.92],[19.0,.84],[19.2,.9],[19.4,.88],[19.6,.82],[19.8,.92],[20.0,.86],[20.2,.9],[20.4,.84],[20.6,.9],[20.8,.88],[21.2,.86],[21.5,.9],[19.5,.74]]
const d2000 = [[2.7,1.02],[2.9,1.0],[3.1,1.03],[3.3,.99],[3.5,1.02],[3.7,1.04],[3.9,1.0],[4.1,.98],[4.3,1.02],
  [2.8,1.01],[3.0,1.0],[3.2,1.02],[3.4,1.0],[3.6,1.01],[3.8,1.02],[4.0,1.0],
  [9.3,1.0],[9.5,1.03],[9.7,.98],[9.9,1.02],[10.1,1.0],[10.3,.97],[10.5,1.01],[10.7,.99],
  [9.4,1.01],[9.6,1.0],[9.8,1.0],[10.0,1.02],[10.2,.99],[10.4,1.0],[10.6,.98],
  [19.0,.95],[19.2,.98],[19.4,.93],[19.6,.97],[19.8,1.0],[20.0,.94],[20.2,.98],[20.4,.95],[20.6,1.0],[20.8,.96],[21.0,.93],[21.2,.97],[21.5,.95],[21.8,.94],
  [19.1,.96],[19.3,.95],[19.5,.97],[19.7,.94],[19.9,.97],[20.1,.96],[20.3,.93],[20.5,.97],[20.7,.95],[20.9,.94],[21.1,.96],[21.4,.93],[21.7,.96]]
const dFitStart = [1.01, 1.0, 1.01, 1.02]
const dFitEnd = [0.65, 0.796, 0.895, 0.956]

const FONT = '"Liberation Sans", Arial, sans-serif'
const markLen = [2.2, 2.1, 2.7, 3.4]
const markW = [2.8, 2.6, 3.3, 3.8]

function near(v, list) { return list.some(m => Math.abs(m - v) < 1e-6) }
function xy(p) { return p.map(d => ({ x: d[0], y: d[1] })) }

const panelBg = {
  id: 'panelBg',
  beforeDraw(chart) {
    const a = chart.chartArea, ctx = chart.ctx
    ctx.save()
    ctx.fillStyle = '#EBEBEB'
    ctx.fillRect(a.left, a.top, a.right - a.left, a.bottom - a.top)
    ctx.restore()
  }
}

function makePanel(id, pts, fitStart, fitEnd) {
  const ds = []
  ds.push({ data: [{ x: xMin, y: refY }, { x: xMax, y: refY }], showLine: true, borderColor: '#000', borderWidth: 1.8, borderDash: [7, 5], pointRadius: 0, order: 0 })
  for (let i = 3; i >= 0; i--) {
    ds.push({ data: [{ x: fitX[0], y: fitStart[i] }, { x: fitX[1], y: fitEnd[i] }], showLine: true, borderColor: colors[i], borderWidth: 2, pointRadius: 0, order: 4 - i })
  }
  for (let i = 0; i < 4; i++) {
    ds.push({ data: xy(pts[i]), showLine: false, pointStyle: 'line', pointRadius: markLen[i], pointBorderWidth: markW[i], pointBorderColor: colors[i], pointBackgroundColor: colors[i], order: 8 - i })
  }
  new Chart(document.getElementById(id), {
    type: 'scatter',
    data: { datasets: ds },
    options: {
      responsive: false,
      animation: false,
      devicePixelRatio: 1,
      events: [],
      layout: { padding: { top: 5, right: 4, left: 0, bottom: 0 } },
      plugins: { legend: { display: false }, tooltip: { enabled: false } },
      scales: {
        x: {
          type: 'linear', min: xMin, max: xMax,
          afterBuildTicks: s => { s.ticks = xMajor.concat(xMinor).sort((p, q) => p - q).map(v => ({ value: v })) },
          afterFit: s => { s.height = 37 },
          border: { display: false },
          grid: {
            color: '#FFFFFF',
            lineWidth: c => (c.tick && near(c.tick.value, xMajor)) ? 1.2 : 0.6,
            tickLength: 4, tickWidth: 1,
            tickColor: c => (c.tick && near(c.tick.value, xMajor)) ? '#333333' : 'rgba(0,0,0,0)'
          },
          ticks: { autoSkip: false, maxRotation: 0, padding: 1.5, color: '#4D4D4D', font: { family: FONT, size: 10.1 }, callback: v => near(v, xMajor) ? String(v) : '' },
          title: { display: true, text: 'Outlier proportion (%)', color: '#000', font: { family: FONT, size: 12.6 }, padding: { top: 0, bottom: 2.9 } }
        },
        y: {
          type: 'logarithmic', min: yMin, max: yMax,
          afterBuildTicks: s => { s.ticks = yMajor.concat(yMinor).sort((p, q) => p - q).map(v => ({ value: v })) },
          afterFit: s => { s.width = 45 },
          border: { display: false },
          grid: {
            color: '#FFFFFF',
            lineWidth: c => (c.tick && near(c.tick.value, yMajor)) ? 1.2 : 0.6,
            tickLength: 4, tickWidth: 1,
            tickColor: c => (c.tick && near(c.tick.value, yMajor)) ? '#333333' : 'rgba(0,0,0,0)'
          },
          ticks: { autoSkip: false, padding: 3, color: '#4D4D4D', font: { family: FONT, size: 10.1 }, callback: v => near(v, yMajor) ? v.toFixed(1) : '' },
          title: { display: true, text: 'MSE ratio', color: '#000', font: { family: FONT, size: 12.6 }, padding: { top: 5.4, bottom: 0 } }
        }
      }
    },
    plugins: [panelBg]
  })
}

function makeLegend(id) {
  const el = document.getElementById(id)
  let html = '<span class="lt">sample_size</span>'
  sizes.forEach((s, i) => {
    html += '<span class="key"><i style="background:' + colors[i] + '"></i></span><span class="lab">' + s + '</span>'
  })
  el.innerHTML = html
}

makePanel('ca', [a250, a500, a1000, a2000], aFitStart, aFitEnd)
makePanel('cb', [b250, b500, b1000, b2000], bFitStart, bFitEnd)
makePanel('cc', [c250, c500, c1000, c2000], cFitStart, cFitEnd)
makePanel('cd', [d250, d500, d1000, d2000], dFitStart, dFitEnd)
;['la', 'lb', 'lc', 'ld'].forEach(makeLegend)
</script>
</body>
</html>
